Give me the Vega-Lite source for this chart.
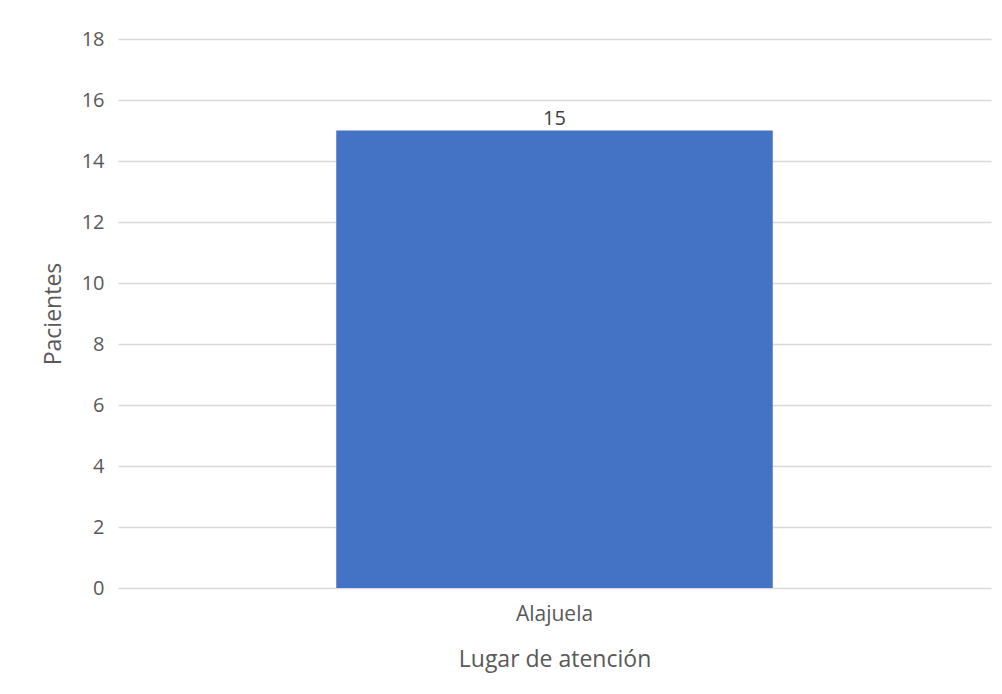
{
  "$schema": "https://vega.github.io/schema/vega-lite/v6.json",
  "autosize": {"type": "none"},
  "width": 873,
  "height": 549,
  "padding": {"left": 118, "top": 39, "right": 11, "bottom": 106},
  "background": "white",
  "config": {
    "view": {"stroke": null},
    "font": "Open Sans",
    "axis": {
      "labelFont": "Open Sans",
      "titleFont": "Open Sans",
      "labelColor": "#595959",
      "titleColor": "#595959",
      "labelFontSize": 20,
      "titleFontSize": 23,
      "titleFontWeight": "normal",
      "gridColor": "#D9D9D9",
      "gridWidth": 1.3
    }
  },
  "data": {
    "values": [
      {"lugar": "Alajuela", "pacientes": 15}
    ]
  },
  "encoding": {
    "x": {
      "field": "lugar",
      "type": "nominal",
      "title": "Lugar de atención",
      "scale": {"paddingInner": 0.5, "paddingOuter": 0.25},
      "axis": {
        "labelAngle": 0,
        "labelFontSize": 21,
        "domain": false,
        "ticks": false,
        "labelPadding": 15,
        "titlePadding": 24
      }
    },
    "y": {
      "field": "pacientes",
      "type": "quantitative",
      "title": "Pacientes",
      "scale": {"domain": [0, 18], "nice": false},
      "axis": {
        "values": [0, 2, 4, 6, 8, 10, 12, 14, 16, 18],
        "domain": false,
        "ticks": false,
        "labelPadding": 14,
        "titlePadding": 16
      }
    }
  },
  "layer": [
    {"mark": {"type": "bar", "color": "#4472C4"}},
    {
      "mark": {"type": "text", "baseline": "bottom", "dy": -2, "fontSize": 20, "color": "#404040", "font": "Open Sans"},
      "encoding": {"text": {"field": "pacientes", "type": "quantitative"}}
    }
  ]
}
